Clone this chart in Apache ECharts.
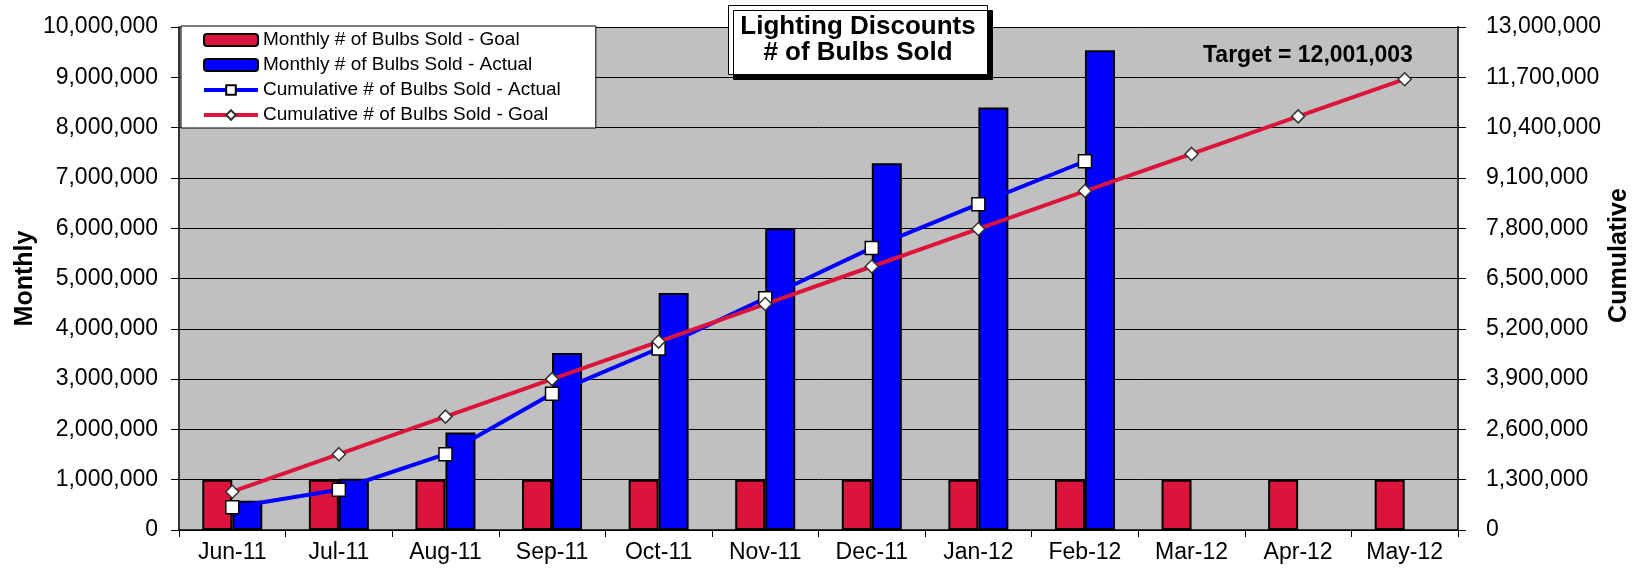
<!DOCTYPE html>
<html>
<head>
<meta charset="utf-8">
<script src="https://cdn.jsdelivr.net/npm/echarts@6/dist/echarts.min.js"></script>
<style>
  html, body { margin: 0; padding: 0; background: #fff; }
  #main { width: 1633px; height: 573px; }
</style>
</head>
<body>
<div id="main"></div>
<script>
// chart data
var months = ['Jun-11', 'Jul-11', 'Aug-11', 'Sep-11', 'Oct-11', 'Nov-11', 'Dec-11', 'Jan-12', 'Feb-12', 'Mar-12', 'Apr-12', 'May-12'];
var monthlyGoal = [1000000, 1000000, 1000000, 1000000, 1000000, 1000000, 1000000, 1000000, 1000000, 1000000, 1000000, 1000000];
var monthlyActual = [580000, 1020000, 1940000, 3520000, 4710000, 6000000, 7290000, 8400000, 9540000];
var cumActual = [590000, 1040000, 1960000, 3520000, 4690000, 5990000, 7290000, 8420000, 9530000];
var cumGoal = [990000, 1960000, 2930000, 3900000, 4870000, 5840000, 6810000, 7780000, 8760000, 9720000, 10690000, 11650000];
var leftTicks = { min: 0, max: 10000000, interval: 1000000 };
var rightTicks = { min: 0, max: 13000000, interval: 1300000 };

var FONT = '"Liberation Sans", Arial, sans-serif';
var fmt = function (v) { return v.toLocaleString('en-US'); };

var myChart = echarts.init(document.getElementById('main'));

var option = {
    animation: false,
    backgroundColor: '#fff',
    textStyle: { fontFamily: FONT, color: '#000' },
    title: [
        {
            text: 'Lighting Discounts\n# of Bulbs Sold',
            left: 846,
            top: 5,
            textAlign: 'center',
            padding: [9, 12, 9, 12],
            backgroundColor: '#fff',
            borderColor: '#000',
            borderWidth: 1,
            shadowColor: '#000',
            shadowBlur: 0,
            shadowOffsetX: 5,
            shadowOffsetY: 5,
            textStyle: { fontFamily: FONT, fontSize: 26, fontWeight: 'bold', lineHeight: 26, color: '#000' }
        },
        {
            text: 'Target = 12,001,003',
            left: 1203,
            top: 44,
            padding: 0,
            textStyle: { fontFamily: FONT, fontSize: 23, fontWeight: 'bold', color: '#000' }
        }
    ],
    legend: {
        orient: 'vertical',
        left: 181,
        top: 26,
        padding: [4, 35, 3, 21],
        itemGap: 5,
        itemWidth: 54,
        itemHeight: 12,
        backgroundColor: '#fff',
        borderColor: '#000',
        borderWidth: 1,
        textStyle: { fontFamily: FONT, fontSize: 19, lineHeight: 20, color: '#000' },
        data: [
            { name: 'Monthly # of Bulbs Sold - Goal', itemStyle: { borderColor: '#000', borderWidth: 2 } },
            { name: 'Monthly # of Bulbs Sold - Actual', itemStyle: { borderColor: '#000', borderWidth: 2 } },
            { name: 'Cumulative # of Bulbs Sold - Actual', lineStyle: { width: 4 } },
            { name: 'Cumulative # of Bulbs Sold - Goal', lineStyle: { width: 4 } }
        ]
    },
    grid: {
        left: 179,
        right: 175,
        top: 27,
        bottom: 43,
        outerBoundsMode: 'none',
        containLabel: false,
        show: true,
        backgroundColor: '#C0C0C0',
        borderWidth: 0
    },
    xAxis: {
        type: 'category',
        data: months,
        axisLine: { lineStyle: { color: '#000', width: 1.5 } },
        axisTick: { show: true, length: 7, lineStyle: { color: '#000' } },
        axisLabel: { fontFamily: FONT, fontSize: 23, color: '#000', margin: 11 }
    },
    yAxis: [
        {
            type: 'value',
            min: leftTicks.min,
            max: leftTicks.max,
            interval: leftTicks.interval,
            name: 'Monthly',
            nameLocation: 'middle',
            nameGap: 141,
            nameMoveOverlap: false,
            nameTextStyle: { fontFamily: FONT, fontSize: 25, fontWeight: 'bold', color: '#000' },
            axisLine: { show: true, lineStyle: { color: '#333', width: 2 } },
            axisTick: { show: true, length: 8, lineStyle: { color: '#000' } },
            axisLabel: { fontFamily: FONT, fontSize: 23, color: '#000', margin: 21, formatter: fmt },
            splitLine: { show: true, lineStyle: { color: '#000', width: 1 } }
        },
        {
            type: 'value',
            position: 'right',
            min: rightTicks.min,
            max: rightTicks.max,
            interval: rightTicks.interval,
            name: 'Cumulative',
            nameLocation: 'middle',
            nameGap: 149,
            nameMoveOverlap: false,
            nameTextStyle: { fontFamily: FONT, fontSize: 25, fontWeight: 'bold', color: '#000', padding: [0, 0, 0, 46] },
            axisLine: { show: true, lineStyle: { color: '#333', width: 2 } },
            axisTick: { show: true, length: 8, lineStyle: { color: '#000' } },
            axisLabel: { fontFamily: FONT, fontSize: 23, color: '#000', margin: 28, formatter: fmt },
            splitLine: { show: false }
        }
    ],
    series: [
        {
            name: 'Monthly # of Bulbs Sold - Goal',
            type: 'bar',
            yAxisIndex: 0,
            barWidth: 30,
            barGap: '0%',
            data: monthlyGoal,
            itemStyle: { color: '#DC143C', borderColor: '#000', borderWidth: 2 }
        },
        {
            name: 'Monthly # of Bulbs Sold - Actual',
            type: 'bar',
            yAxisIndex: 0,
            barWidth: 30,
            barGap: '0%',
            data: monthlyActual,
            itemStyle: { color: '#0000FF', borderColor: '#000', borderWidth: 2 }
        },
        {
            name: 'Cumulative # of Bulbs Sold - Actual',
            type: 'line',
            yAxisIndex: 1,
            data: cumActual,
            symbol: 'rect',
            symbolSize: 13,
            lineStyle: { color: '#0000FF', width: 4 },
            itemStyle: { color: '#fff', borderColor: '#000', borderWidth: 1.5 }
        },
        {
            name: 'Cumulative # of Bulbs Sold - Goal',
            type: 'line',
            yAxisIndex: 1,
            data: cumGoal,
            symbol: 'diamond',
            symbolSize: 13,
            lineStyle: { color: '#DC143C', width: 4 },
            itemStyle: { color: '#fff', borderColor: '#333', borderWidth: 1.5 }
        }
    ]
};

myChart.setOption(option);
</script>
</body>
</html>
